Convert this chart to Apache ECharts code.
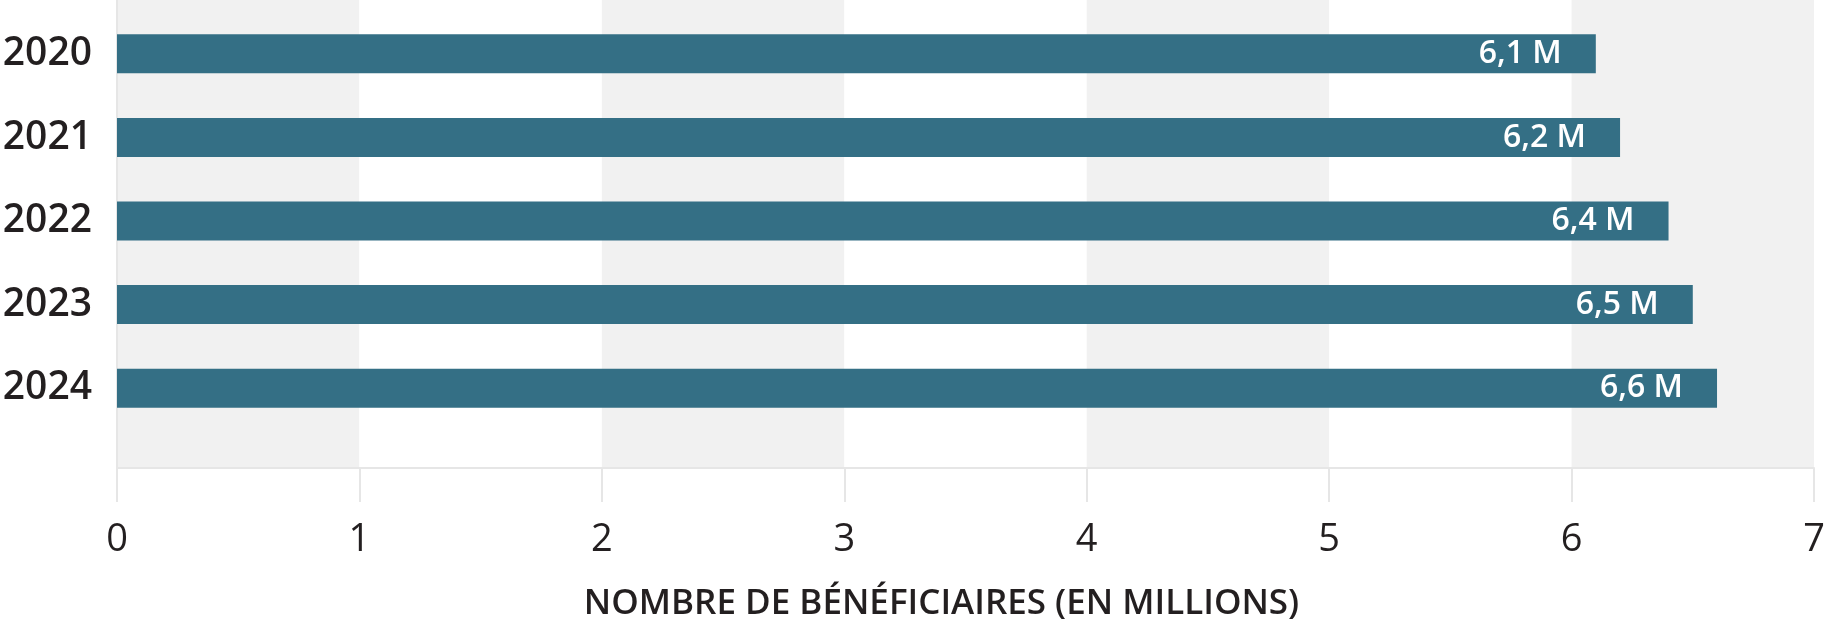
<!DOCTYPE html>
<html>
<head>
    <meta charset="UTF-8">
    <title>Nombre de bénéficiaires</title>
    <script src="https://cdn.jsdelivr.net/npm/echarts@6/dist/echarts.min.js"></script>
    <style>
        html, body { margin: 0; padding: 0; background: #fff; }
    </style>
</head>
<body>
    <div id="main" style="width: 1827px;height:624px;"></div>
    <script type="text/javascript">
        // données
        var years = ['2020', '2021', '2022', '2023', '2024'];
        var beneficiaires = [6.1, 6.2, 6.4, 6.5, 6.6];
        var xTicks = [0, 1, 2, 3, 4, 5, 6, 7];
        var axisTitle = 'NOMBRE DE BÉNÉFICIAIRES (EN MILLIONS)';

        var font = 'Open Sans';
        var myChart = echarts.init(document.getElementById('main'));

        var option = {
            animation: false,
            textStyle: { fontFamily: font },
            // grille 0 : fond en bandes + axe des valeurs ; grille 1 : les barres
            grid: [
                { left: 117, right: 13, top: 0, bottom: 156, outerBoundsMode: 'none' },
                { left: 117, right: 13, top: 12, bottom: 194, outerBoundsMode: 'none' }
            ],
            xAxis: [
                {
                    gridIndex: 0,
                    type: 'value',
                    min: xTicks[0],
                    max: xTicks[xTicks.length - 1],
                    interval: 1,
                    axisLine: { show: true, lineStyle: { color: '#e6e6e6', width: 2 } },
                    axisTick: { show: true, length: 34, lineStyle: { color: '#e6e6e6', width: 2 } },
                    axisLabel: { fontSize: 38, color: '#231f20', margin: 53 },
                    splitLine: { show: false },
                    splitArea: { show: true, areaStyle: { color: ['#f1f1f1', '#ffffff'] } },
                    name: axisTitle,
                    nameLocation: 'middle',
                    nameGap: 119,
                    nameTextStyle: {
                        fontSize: 35,
                        fontWeight: 600,
                        color: '#231f20',
                        padding: [0, 48, 0, 0]
                    }
                },
                {
                    gridIndex: 1,
                    type: 'value',
                    min: xTicks[0],
                    max: xTicks[xTicks.length - 1],
                    show: false
                }
            ],
            yAxis: [
                {
                    gridIndex: 0,
                    type: 'value',
                    axisLine: { show: true, lineStyle: { color: '#e6e6e6', width: 2 } },
                    axisTick: { show: false },
                    axisLabel: { show: false },
                    splitLine: { show: false }
                },
                {
                    gridIndex: 1,
                    type: 'category',
                    inverse: true,
                    data: years,
                    axisLine: { show: false },
                    axisTick: { show: false },
                    axisLabel: { fontSize: 39, fontWeight: 600, color: '#231f20', margin: 25, padding: [4, 0, 0, 0] }
                }
            ],
            series: [
                {
                    type: 'bar',
                    xAxisIndex: 1,
                    yAxisIndex: 1,
                    data: beneficiaires,
                    barWidth: 39,
                    itemStyle: { color: '#346f85' },
                    label: {
                        show: true,
                        position: 'insideRight',
                        distance: 34,
                        color: '#ffffff',
                        fontSize: 32,
                        fontWeight: 600,
                        formatter: function (p) {
                            return String(p.value).replace('.', ',') + ' M';
                        }
                    }
                }
            ]
        };

        myChart.setOption(option);
    </script>
</body>
</html>
